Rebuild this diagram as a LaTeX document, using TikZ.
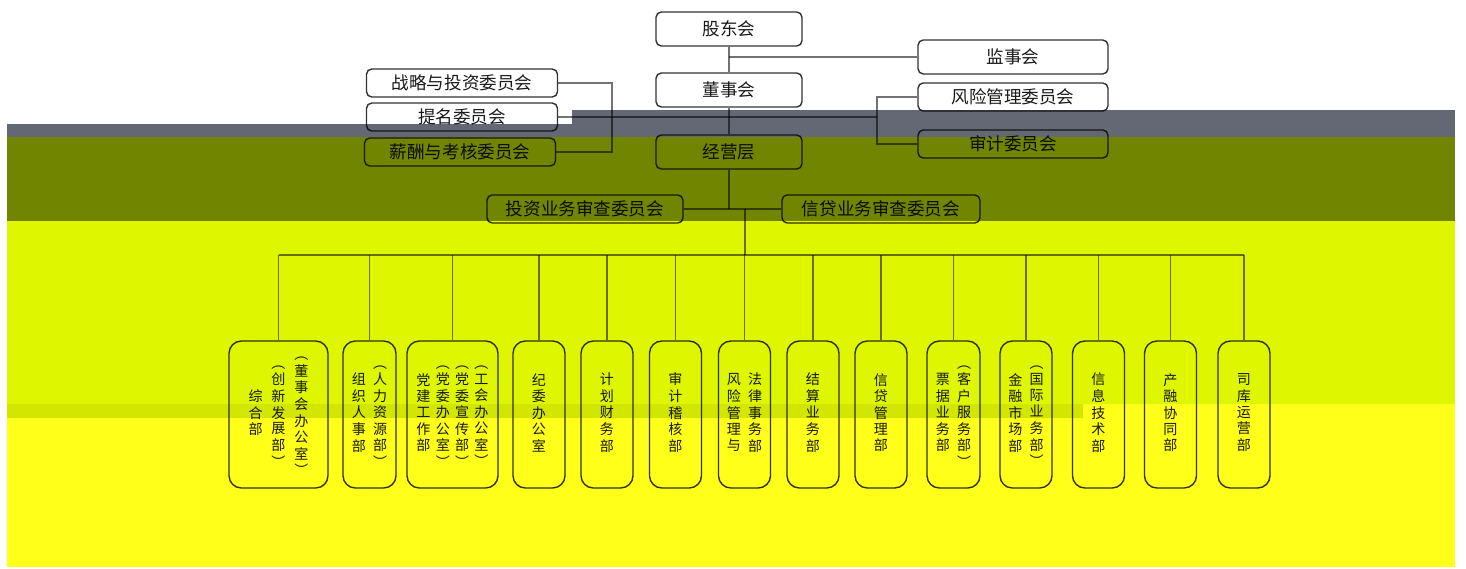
\documentclass[tikz,border=0pt]{standalone}
\usepackage{fontspec}
\setmainfont{Noto Sans CJK SC}
\usepackage{xcolor}
\usepackage{tikz}

\definecolor{bandgray}{HTML}{646874}
\definecolor{bandolive}{HTML}{718500}
\definecolor{bandlime}{HTML}{DEF700}
\definecolor{bandstrip}{HTML}{D3E600}
\definecolor{bandyellow}{HTML}{FFFF1A}

% one column of vertical text
\newcommand{\vcol}[1]{\begin{tabular}{@{}c@{}}#1\end{tabular}}

\begin{document}
\begin{tikzpicture}[x=0.02cm, y=-0.02cm,
    every node/.style={draw=black, draw opacity=0.8, text opacity=0.9, rounded corners=3pt, align=center, line width=0.8pt},
    head/.style={minimum width=2.92cm, minimum height=0.68cm, font=\fontsize{10}{12}\selectfont},
    comm/.style={minimum width=3.82cm, minimum height=0.54cm, font=\fontsize{10}{12}\selectfont},
    review/.style={minimum height=0.48cm, font=\fontsize{10}{12}\selectfont},
    dept/.style={rounded corners=7pt, minimum height=2.94cm, inner sep=0pt, font=\fontsize{8}{9}\selectfont},
    link/.style={draw=black, draw opacity=0.55, line width=0.7pt}]

    \useasboundingbox (0,0) rectangle (1466,568);

    % Background bands
    \fill[bandgray] (572,110) rectangle (1455,137);
    \fill[bandgray] (7,124) rectangle (572,137);
    \fill[bandolive] (7,137) rectangle (1455,221);
    \fill[bandlime] (7,221) rectangle (1455,404);
    \fill[bandyellow] (7,404) rectangle (1455,567);
    \fill[bandstrip] (7,404) rectangle (1083,418);

    % Governance
    \node[head] (Shareholders) at (729,29)  {股东会};
    \node[head] (Board)        at (729,90)  {董事会};
    \node[head] (Management)   at (729,152) {经营层};
    \node[head, minimum width=3.8cm] (Supervisors) at (1013,57) {监事会};

    % Board committees
    \node[comm] (Strategy)   at (462,83)  {战略与投资委员会};
    \node[comm] (Nomination) at (462,117) {提名委员会};
    \node[comm] (Salary)     at (460,152) {薪酬与考核委员会};
    \node[comm, minimum width=3.8cm, minimum height=0.52cm] (Risk)  at (1013,97)  {风险管理委员会};
    \node[comm, minimum width=3.8cm, minimum height=0.52cm] (Audit) at (1013,144) {审计委员会};

    % Review committees
    \node[review, minimum width=3.92cm] (InvestReview) at (585,209) {投资业务审查委员会};
    \node[review, minimum width=3.96cm] (CreditReview) at (881,209) {信贷业务审查委员会};

    % Departments
    \node[dept, minimum width=1.98cm] (General) at (278.5,414.5)
        {\vcol{综\\合\\部}\hspace{5pt}\vcol{︵\\创\\新\\发\\展\\部\\︶}\hspace{5pt}\vcol{︵\\董\\事\\会\\办\\公\\室\\︶}};
    \node[dept, minimum width=1.06cm] (HumanRes) at (369.5,414.5)
        {\vcol{组\\织\\人\\事\\部}\hspace{4pt}\vcol{︵\\人\\力\\资\\源\\部\\︶}};
    \node[dept, minimum width=1.82cm] (Party) at (452.5,414.5)
        {\vcol{党\\建\\工\\作\\部}\hspace{3pt}\vcol{︵\\党\\委\\办\\公\\室\\︶}\hspace{3pt}\vcol{︵\\党\\委\\宣\\传\\部\\︶}\hspace{3pt}\vcol{︵\\工\\会\\办\\公\\室\\︶}};
    \node[dept, minimum width=1.04cm] (Discipline) at (539,414.5)   {\vcol{纪\\委\\办\\公\\室}};
    \node[dept, minimum width=1.04cm] (Finance)    at (607,414.5)   {\vcol{计\\划\\财\\务\\部}};
    \node[dept, minimum width=1.04cm] (AuditDept)  at (675.5,414.5) {\vcol{审\\计\\稽\\核\\部}};
    \node[dept, minimum width=1.04cm] (Legal)      at (744.5,414.5)
        {\vcol{风\\险\\管\\理\\与}\hspace{4pt}\vcol{法\\律\\事\\务\\部}};
    \node[dept, minimum width=1.04cm] (Settlement) at (813,414.5)   {\vcol{结\\算\\业\\务\\部}};
    \node[dept, minimum width=1.04cm] (CreditMgmt) at (881,414.5)   {\vcol{信\\贷\\管\\理\\部}};
    \node[dept, minimum width=1.06cm] (Bill)       at (953.5,414.5)
        {\vcol{票\\据\\业\\务\\部}\hspace{4pt}\vcol{︵\\客\\户\\服\\务\\部\\︶}};
    \node[dept, minimum width=1.04cm] (Market)     at (1026,414.5)
        {\vcol{金\\融\\市\\场\\部}\hspace{4pt}\vcol{︵\\国\\际\\业\\务\\部\\︶}};
    \node[dept, minimum width=1.04cm] (InfoTech)   at (1098.5,414.5) {\vcol{信\\息\\技\\术\\部}};
    \node[dept, minimum width=1.04cm] (Industry)   at (1170.5,414.5) {\vcol{产\\融\\协\\同\\部}};
    \node[dept, minimum width=1.04cm] (Treasury)   at (1244,414.5)   {\vcol{司\\库\\运\\营\\部}};

    % Junction points
    \coordinate (LeftSpine)  at (612,117);
    \coordinate (RightSpine) at (877,117);
    \coordinate (Trunk)      at (745,209);
    \coordinate (Bus)        at (745,255);

    % Connectors
    \draw[link] (Shareholders) -- (Board);
    \draw[link] (Supervisors.west) -- (Supervisors.west -| Shareholders.south);
    \draw[link] (Board) -- (Management);
    \draw[link] (Strategy.east) -| (LeftSpine);
    \draw[link] (Salary.east) -| (LeftSpine);
    \draw[link] (Nomination.east) -- (LeftSpine) -- (RightSpine);
    \draw[link] (Risk.west) -| (RightSpine);
    \draw[link] (Audit.west) -| (RightSpine);
    \draw[link] (Management.south) -- (Management.south |- InvestReview);
    \draw[link] (InvestReview.east) -- (CreditReview.west);
    \draw[link] (Trunk) -- (Bus);
    \draw[link] (General.north |- Bus) -- (Treasury.north |- Bus);
    \foreach \d in {General,HumanRes,Party,Discipline,Finance,AuditDept,Legal,Settlement,CreditMgmt,Bill,Market,InfoTech,Industry,Treasury}
        \draw[link] (\d.north) -- (\d.north |- Bus);
\end{tikzpicture}
\end{document}
